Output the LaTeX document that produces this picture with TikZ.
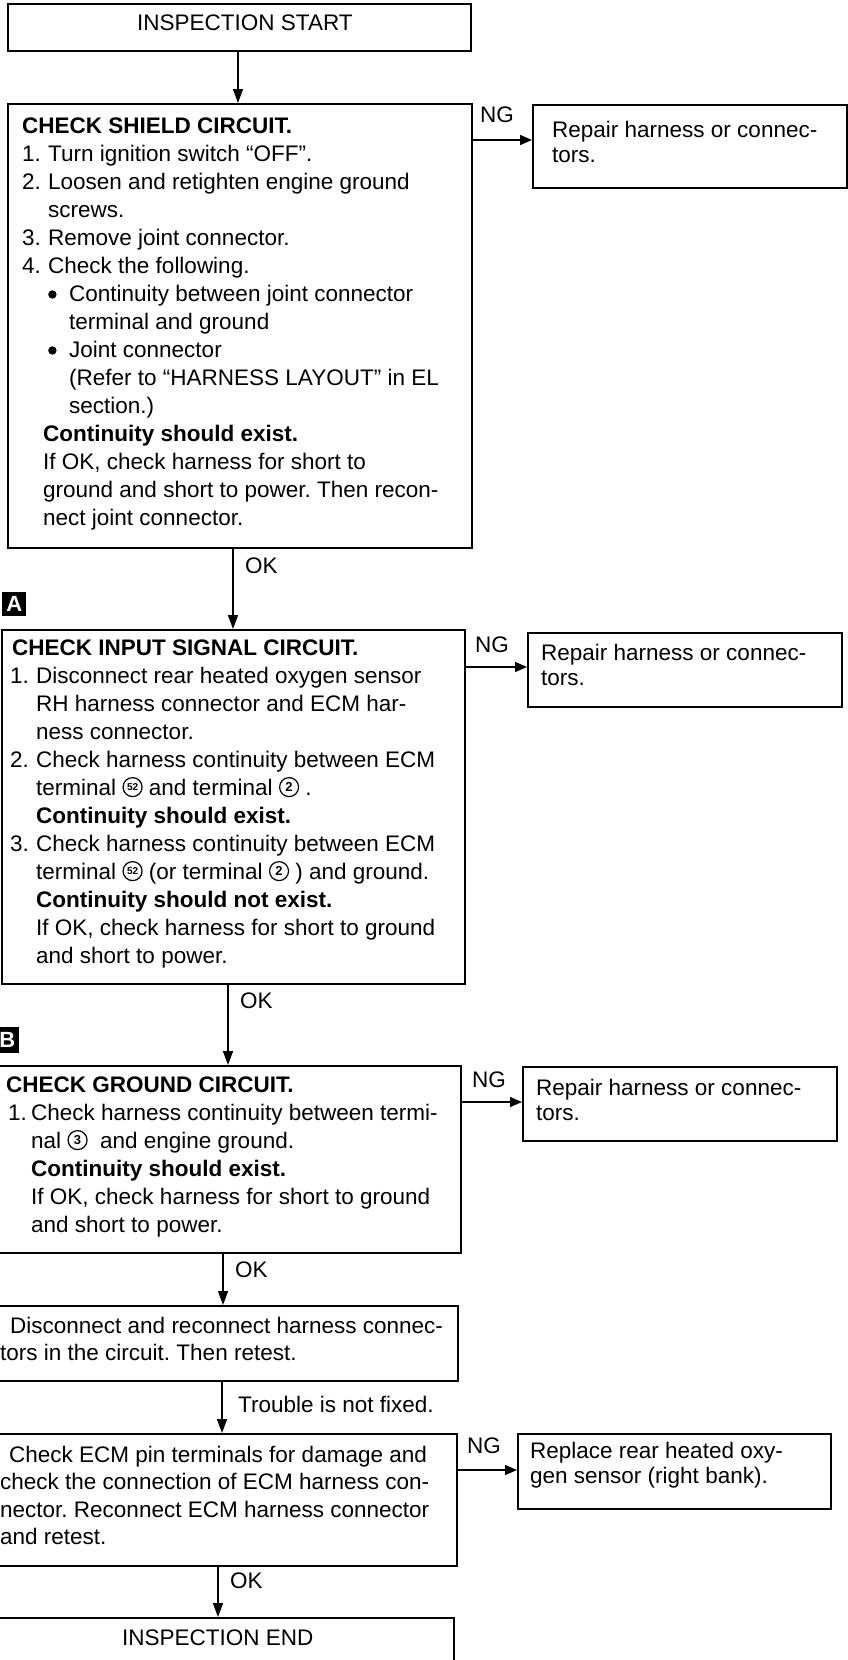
\documentclass[tikz,border=0pt]{standalone}
\usepackage{fontspec}
\setmainfont{Liberation Sans}
\usetikzlibrary{arrows.meta}
\frenchspacing
\newcommand{\nm}[1]{\makebox[26pt][l]{#1}}
\newcommand{\cnum}[2][10]{\tikz[baseline=-0.36em]{\draw[line width=1.2pt] (0pt,0pt) circle[radius=9.5pt]; \node[anchor=center,inner sep=0pt,align=center,font=\fontsize{#1}{#1}\selectfont\bfseries] (cn) at (0pt,0pt) {#2};}}
\newcommand{\bul}{\tikz[baseline=-0.3em]{\fill (0pt,0pt) circle[radius=4.2pt];}}
\begin{document}
\begin{tikzpicture}[x=1pt,y=-1pt,
  box/.style={draw,line width=1.5pt,inner sep=0pt,anchor=north west},
  txt/.style={anchor=north west,inner sep=0pt,align=left,font=\fontsize{22.5}{28}\selectfont},
  ltxt/.style={anchor=north west,inner sep=0pt,align=left,font=\fontsize{22.5}{27.5}\selectfont},
  rtxt/.style={anchor=north west,inner sep=0pt,align=left,font=\fontsize{22.5}{25}\selectfont},
  lab/.style={anchor=base west,inner sep=0pt,font=\fontsize{22.5}{25}\selectfont},
  arr/.style={line width=1.5pt,-{Triangle[length=14pt,width=10pt]}},
  harr/.style={line width=1.5pt,-{Triangle[length=12pt,width=10pt]}},
  tag/.style={fill=black,text=white,inner sep=0pt,anchor=north west,font=\fontsize{22}{22}\selectfont\bfseries}]
\useasboundingbox[fill=white] (0,0) rectangle (848,1660);

% boxes
\node[box,minimum width=463pt,minimum height=47pt] (start) at (7,3) {};
\node[box,minimum width=464pt,minimum height=444pt] (shield) at (7,103) {};
\node[box,minimum width=314pt,minimum height=83pt] (rep1) at (532,104) {};
\node[box,minimum width=463pt,minimum height=354pt] (boxA) at (1,629) {};
\node[box,minimum width=314pt,minimum height=74pt] (rep2) at (527,632) {};
\node[box,minimum width=463pt,minimum height=187pt] (boxB) at (-3,1065) {};
\node[box,minimum width=314pt,minimum height=74pt] (rep3) at (522,1066) {};
\node[box,minimum width=460pt,minimum height=75pt] (disc) at (-3,1305) {};
\node[box,minimum width=459pt,minimum height=132pt] (ecm) at (-3,1433) {};
\node[box,minimum width=313pt,minimum height=75pt] (rep4) at (517,1433) {};
\node[box,minimum width=456pt,minimum height=60pt] (endb) at (-3,1617) {};

% tags
\node[tag,minimum width=24pt,minimum height=24pt] (tagA) at (2,592) {A};
\node[tag,minimum width=24pt,minimum height=26pt] (tagB) at (-5,1027) {B};

% texts
\node[lab] (startT) at (137,30) {INSPECTION START};
\node[lab] (endT) at (122,1645) {INSPECTION END};

\node[txt] (shieldT) at (22,113.4) {\strut\textbf{CHECK SHIELD CIRCUIT.}\\
\nm{1.}Turn ignition switch “OFF”.\\
\nm{2.}Loosen and retighten engine ground\\
\hspace*{26pt}screws.\\
\nm{3.}Remove joint connector.\\
\nm{4.}Check the following.\\
\hspace*{26pt}\makebox[21pt][l]{\bul}Continuity between joint connector\\
\hspace*{47pt}terminal and ground\\
\hspace*{26pt}\makebox[21pt][l]{\bul}Joint connector\\
\hspace*{47pt}(Refer to “HARNESS LAYOUT” in EL\\
\hspace*{47pt}section.)\\
\hspace*{21pt}\textbf{Continuity should exist.}\\
\hspace*{21pt}If OK, check harness for short to\\
\hspace*{21pt}ground and short to power. Then recon-\\
\hspace*{21pt}nect joint connector.};

\node[txt] (boxAT) at (10,635.4) {\strut\hspace*{2pt}\textbf{CHECK INPUT SIGNAL CIRCUIT.}\\
\nm{1.}Disconnect rear heated oxygen sensor\\
\hspace*{26pt}RH harness connector and ECM har-\\
\hspace*{26pt}ness connector.\\
\nm{2.}Check harness continuity between ECM\\
\hspace*{26pt}terminal \cnum{52} and terminal \cnum[13]{2} .\\
\hspace*{26pt}\textbf{Continuity should exist.}\\
\nm{3.}Check harness continuity between ECM\\
\hspace*{26pt}terminal \cnum{52} (or terminal \cnum[13]{2} ) and ground.\\
\hspace*{26pt}\textbf{Continuity should not exist.}\\
\hspace*{26pt}If OK, check harness for short to ground\\
\hspace*{26pt}and short to power.};

\node[txt] (boxBT) at (6,1072.4) {\strut\textbf{CHECK GROUND CIRCUIT.}\\
\makebox[25pt][l]{\hspace*{2pt}1.}Check harness continuity between termi-\\
\hspace*{25pt}nal \cnum[13]{3} \ and engine ground.\\
\hspace*{25pt}\textbf{Continuity should exist.}\\
\hspace*{25pt}If OK, check harness for short to ground\\
\hspace*{25pt}and short to power.};

\node[ltxt] (discT) at (0,1313.75) {\strut\hspace*{10pt}Disconnect and reconnect harness connec-\\
tors in the circuit. Then retest.};

\node[ltxt] (ecmT) at (0,1442.75) {\strut\hspace*{9pt}Check ECM pin terminals for damage and\\
check the connection of ECM harness con-\\
nector. Reconnect ECM harness connector\\
and retest.};

\node[rtxt] (rep1T) at (552,119.5) {\strut Repair harness or connec-\\tors.};
\node[rtxt] (rep2T) at (541,642.5) {\strut Repair harness or connec-\\tors.};
\node[rtxt] (rep3T) at (536,1077.5) {\strut Repair harness or connec-\\tors.};
\node[rtxt] (rep4T) at (530,1440.5) {\strut Replace rear heated oxy-\\gen sensor (right bank).};

% labels
\node[lab] (ng1) at (480,122) {NG};
\node[lab] (ng2) at (475,652) {NG};
\node[lab] (ng3) at (472,1087) {NG};
\node[lab] (ng4) at (467,1453) {NG};
\node[lab] (ok1) at (245,573) {OK};
\node[lab] (ok2) at (240,1008) {OK};
\node[lab] (ok3) at (235,1277) {OK};
\node[lab] (tr) at (238,1412) {Trouble is not fixed.};
\node[lab] (ok4) at (230,1588) {OK};

% vertical connectors
\coordinate (v0) at (238,0);
\coordinate (v1) at (233,0);
\coordinate (v2) at (228,0);
\coordinate (v3) at (223,0);
\coordinate (v4) at (222,0);
\coordinate (v5) at (218,0);
\draw[arr] (start.south -| v0) -- (shield.north -| v0);
\draw[arr] (shield.south -| v1) -- (boxA.north -| v1);
\draw[arr] (boxA.south -| v2) -- (boxB.north -| v2);
\draw[arr] (boxB.south -| v3) -- (disc.north -| v3);
\draw[arr] (disc.south -| v4) -- (ecm.north -| v4);
\draw[arr] (ecm.south -| v5) -- (endb.north -| v5);

% horizontal NG connectors
\coordinate (h1) at (0,140);
\coordinate (h2) at (0,667);
\coordinate (h3) at (0,1102);
\coordinate (h4) at (0,1470);
\draw[harr] (shield.east |- h1) -- (rep1.west |- h1);
\draw[harr] (boxA.east |- h2) -- (rep2.west |- h2);
\draw[harr] (boxB.east |- h3) -- (rep3.west |- h3);
\draw[harr] (ecm.east |- h4) -- (rep4.west |- h4);
\end{tikzpicture}
\end{document}
